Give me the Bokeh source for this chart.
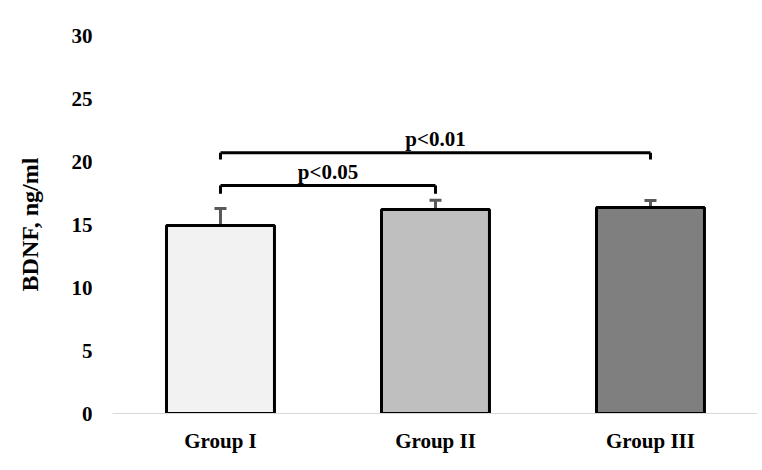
from bokeh.plotting import figure
from bokeh.models import ColumnDataSource, Range1d, FixedTicker, Whisker, TeeHead
from bokeh.core.properties import value
from bokeh.embed import file_html
from bokeh.resources import INLINE

groups = ["Group I", "Group II", "Group III"]
positions = [1, 2, 3]
bdnf_mean = [14.92, 16.2, 16.35]
bdnf_upper = [16.27, 16.92, 16.9]
bar_colors = ["#f2f2f2", "#bfbfbf", "#7f7f7f"]

sig_labels = ["p<0.05", "p<0.01"]
sig_left = [1, 1]
sig_right = [2, 3]
sig_top = [18.1, 20.7]
sig_low = [17.45, 20.15]

FONT = "Liberation Serif"

p = figure(
    width=757,
    height=462,
    x_range=Range1d(0.4977, 3.4977),
    y_range=Range1d(0, 30),
    output_backend="svg",
    toolbar_location=None,
    min_border_left=112,
    min_border_right=0,
    min_border_top=35,
    min_border_bottom=49,
)
p.outline_line_color = None
p.xgrid.visible = False
p.ygrid.visible = False

src = ColumnDataSource(dict(x=positions, top=bdnf_mean, upper=bdnf_upper, color=bar_colors))
p.vbar(x="x", top="top", width=0.502, fill_color="color", line_color="black", line_width=3, source=src)

err = Whisker(
    source=src, base="x", lower="top", upper="upper",
    line_color="#595959", line_width=3,
    lower_head=None,
    upper_head=TeeHead(size=12, line_color="#595959", line_width=3),
)
p.add_layout(err)

# significance brackets
p.segment(x0=sig_left, y0=sig_top, x1=sig_right, y1=sig_top, line_color="black", line_width=3)
p.segment(x0=sig_left, y0=sig_top, x1=sig_left, y1=sig_low, line_color="black", line_width=3)
p.segment(x0=sig_right, y0=sig_top, x1=sig_right, y1=sig_low, line_color="black", line_width=3)
mid = [(a + b) / 2 for a, b in zip(sig_left, sig_right)]
label_y = [t + 1.1 for t in sig_top]
p.text(
    x=mid, y=label_y, text=sig_labels,
    text_font=value(FONT), text_font_style="bold", text_font_size="21px",
    text_align="center", text_baseline="middle", text_color="black",
)

xa = p.xaxis[0]
xa.ticker = FixedTicker(ticks=positions)
xa.major_label_overrides = {pos: g for pos, g in zip(positions, groups)}
xa.major_tick_line_color = None
xa.minor_tick_line_color = None
xa.axis_line_color = "#d9d9d9"
xa.axis_line_width = 1
xa.major_label_standoff = 9
xa.major_label_text_font = FONT
xa.major_label_text_font_style = "bold"
xa.major_label_text_font_size = "21px"
xa.major_label_text_color = "black"

ya = p.yaxis[0]
ya.ticker = FixedTicker(ticks=[0, 5, 10, 15, 20, 25, 30])
ya.axis_line_color = None
ya.major_tick_line_color = None
ya.minor_tick_line_color = None
ya.major_label_standoff = 14
ya.major_label_text_font = FONT
ya.major_label_text_font_style = "bold"
ya.major_label_text_font_size = "21px"
ya.major_label_text_color = "black"
ya.axis_label = "BDNF, ng/ml"
ya.axis_label_text_font = FONT
ya.axis_label_text_font_style = "bold"
ya.axis_label_text_font_size = "24px"
ya.axis_label_text_color = "black"
ya.axis_label_standoff = 26

open("out.html", "w").write(file_html(p, INLINE))
